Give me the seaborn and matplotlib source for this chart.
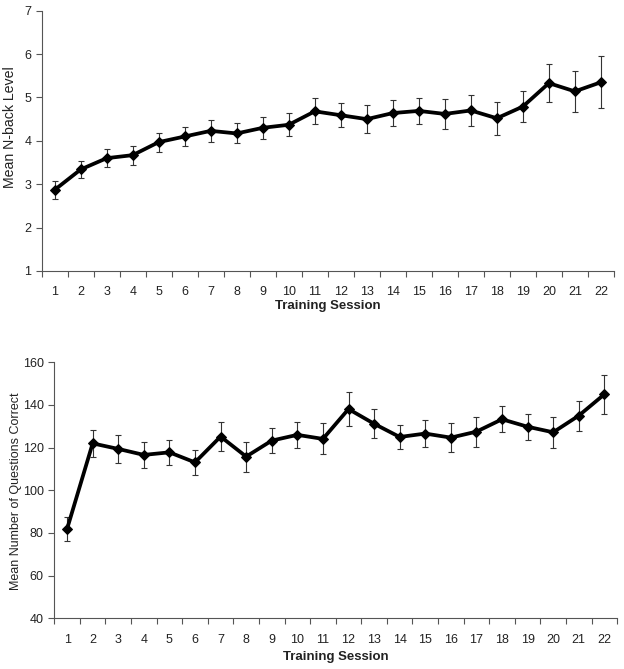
import numpy as np
import pandas as pd
import matplotlib
matplotlib.use("Agg")
import matplotlib.pyplot as plt
import seaborn as sns

sessions = list(range(1, 23))

nback_mean = [2.87, 3.34, 3.60, 3.67, 3.97, 4.10, 4.23, 4.17, 4.30, 4.37, 4.68,
              4.59, 4.50, 4.64, 4.69, 4.62, 4.70, 4.52, 4.79, 5.33, 5.14, 5.35]
nback_err = [0.21, 0.20, 0.21, 0.22, 0.22, 0.22, 0.25, 0.23, 0.26, 0.26, 0.30,
             0.28, 0.33, 0.30, 0.30, 0.35, 0.36, 0.38, 0.35, 0.43, 0.47, 0.60]

questions_mean = [81.9, 122.0, 119.4, 116.6, 117.8, 113.1, 125.2, 115.8, 123.3, 126.0, 124.1,
                  138.1, 131.2, 125.0, 126.6, 124.7, 127.5, 133.3, 129.8, 127.2, 135.0, 145.0]
questions_err = [5.6, 6.2, 6.6, 6.1, 5.7, 5.8, 6.9, 7.0, 5.9, 6.0, 7.3,
                 8.0, 6.8, 5.8, 6.2, 6.9, 7.0, 6.1, 6.1, 7.4, 7.0, 9.0]

sns.set_style("white")
plt.rcParams['font.family'] = ['Liberation Sans', 'DejaVu Sans']

fig = plt.figure(figsize=(6.24, 6.69), dpi=100)
ax1 = fig.add_axes([0.0668, 0.595, 0.917, 0.389])
ax2 = fig.add_axes([0.087, 0.0758, 0.902, 0.3826])

# (axes, means, errors, y label, label size, label centre, y limits, y ticks, label x, xlabel pad)
panels = [
    (ax1, nback_mean, nback_err, "Mean N-back Level", 10.2, 0.553, (1, 7), np.arange(1, 8, 1), -0.044, 1),
    (ax2, questions_mean, questions_err, "Mean Number of Questions Correct", 9, 0.495,
     (40, 160), np.arange(40, 161, 20), -0.057, 4),
]

for ax, mean, err, ylabel, lsize, lcenter, ylim, yticks, lx, xpad in panels:
    df = pd.DataFrame({"session": sessions, "mean": mean, "err": err})
    ax.errorbar(df["session"], df["mean"], yerr=df["err"], fmt="none",
                ecolor="#333333", elinewidth=0.8, capsize=2.5, capthick=0.8, zorder=2)
    sns.lineplot(data=df, x="session", y="mean", ax=ax, color="black", linewidth=2.7,
                 marker="D", markersize=5.5, markeredgecolor="black", zorder=3)
    ax.set_xlim(0.5, 22.5)
    ax.set_ylim(*ylim)
    ax.set_yticks(yticks)
    ax.set_xticks(sessions)
    ax.set_xticks(np.arange(0.5, 23, 1), minor=True)
    ax.tick_params(axis="x", which="major", length=0, pad=11, labelsize=9, colors="#222222")
    ax.tick_params(axis="x", which="minor", length=4, width=0.8, color="#555555", direction="out", bottom=True)
    ax.tick_params(axis="y", length=4, width=0.8, color="#555555", direction="out", left=True,
                   labelsize=9, labelcolor="#222222")
    for s in ["top", "right"]:
        ax.spines[s].set_visible(False)
    for s in ["left", "bottom"]:
        ax.spines[s].set_color("#555555")
        ax.spines[s].set_linewidth(0.8)
    ax.set_ylabel(ylabel, fontsize=lsize, color="#222222")
    ax.yaxis.set_label_coords(lx, lcenter)
    ax.set_xlabel("Training Session", fontsize=9.5, fontweight="bold", color="#222222", labelpad=xpad)

fig.savefig("out.png", dpi=100)
